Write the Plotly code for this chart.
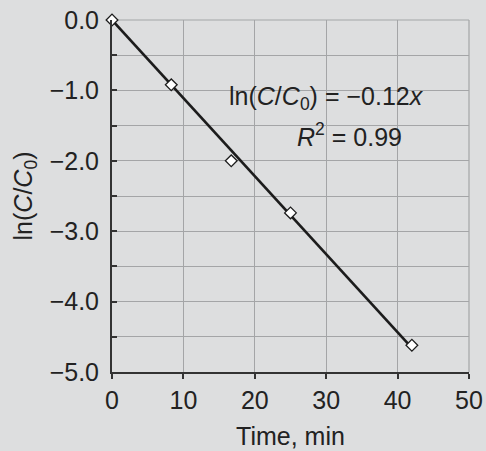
import numpy as np
import plotly.graph_objects as go

# Measured decay data
time_min = [0.0, 8.3, 16.7, 25.0, 42.0]
ln_ratio = [0.0, -0.92, -2.0, -2.74, -4.62]

# Regression through the origin
t = np.array(time_min)
y = np.array(ln_ratio)
slope = float((t * y).sum() / (t * t).sum())
fit_x = [0.0, max(time_min)]
fit_y = [slope * v for v in fit_x]

bg = "#dddedf"
grid = "#a4a5a7"
axis_col = "#333333"
font_family = "Liberation Sans, Arial, sans-serif"
fs = 25

fig = go.Figure()
fig.add_trace(go.Scatter(
    x=fit_x, y=fit_y, mode="lines",
    line=dict(color="#1c1c1c", width=2.6),
    showlegend=False, cliponaxis=False,
))
fig.add_trace(go.Scatter(
    x=time_min, y=ln_ratio, mode="markers",
    marker=dict(symbol="diamond", size=9, color="white",
                line=dict(color="#1c1c1c", width=1.3)),
    showlegend=False, cliponaxis=False,
))

# Fit equation and goodness of fit, placed in data coordinates
fig.add_annotation(
    x=30.1, y=-1.11,
    text="ln(<i>C</i>/<i>C</i><sub>0</sub>) = −0.12<i>x</i>",
    showarrow=False, font=dict(size=fs, color="#222222", family=font_family),
    xanchor="center", yanchor="middle",
)
fig.add_annotation(
    x=33.2, y=-1.63,
    text="<i>R</i><sup>2</sup> = 0.99",
    showarrow=False, font=dict(size=fs, color="#222222", family=font_family),
    xanchor="center", yanchor="middle",
)

fig.update_layout(
    width=486, height=451,
    margin=dict(l=112, r=17, t=20, b=79),
    paper_bgcolor=bg, plot_bgcolor=bg,
    font=dict(family=font_family, size=fs, color="#222222"),
    xaxis=dict(
        range=[0, 50], dtick=10, tick0=0, automargin=False,
        showgrid=True, gridcolor=grid, gridwidth=1.2,
        showline=True, linecolor=axis_col, linewidth=2,
        ticks="outside", ticklen=5, tickcolor=axis_col, tickwidth=1.5,
        zeroline=False, mirror=False,
        title=dict(text="Time, min", standoff=14, font=dict(size=fs)),
    ),
    yaxis=dict(
        range=[-5, 0], dtick=1, tick0=0, tickformat=".1f", automargin=False,
        showgrid=True, gridcolor=grid, gridwidth=1.2,
        showline=True, linecolor=axis_col, linewidth=2,
        ticks="inside", ticklen=5, tickcolor=axis_col, tickwidth=1.5,
        zeroline=False,
        minor=dict(dtick=0.5, showgrid=True, gridcolor=grid, gridwidth=1.2,
                   ticks="inside", ticklen=5, tickcolor=axis_col),
        ticklabelstandoff=6,
        title=dict(text="ln(<i>C</i>/<i>C</i><sub>0</sub>)", standoff=10,
                   font=dict(size=fs)),
    ),
)

# Close the frame on the top and right with grid-coloured edges
fig.add_shape(type="line", xref="paper", yref="paper", x0=0, x1=1, y0=1, y1=1,
              line=dict(color=grid, width=1.2), layer="below")
fig.add_shape(type="line", xref="paper", yref="paper", x0=1, x1=1, y0=0, y1=1,
              line=dict(color=grid, width=1.2), layer="below")

fig.write_html("out.html")
